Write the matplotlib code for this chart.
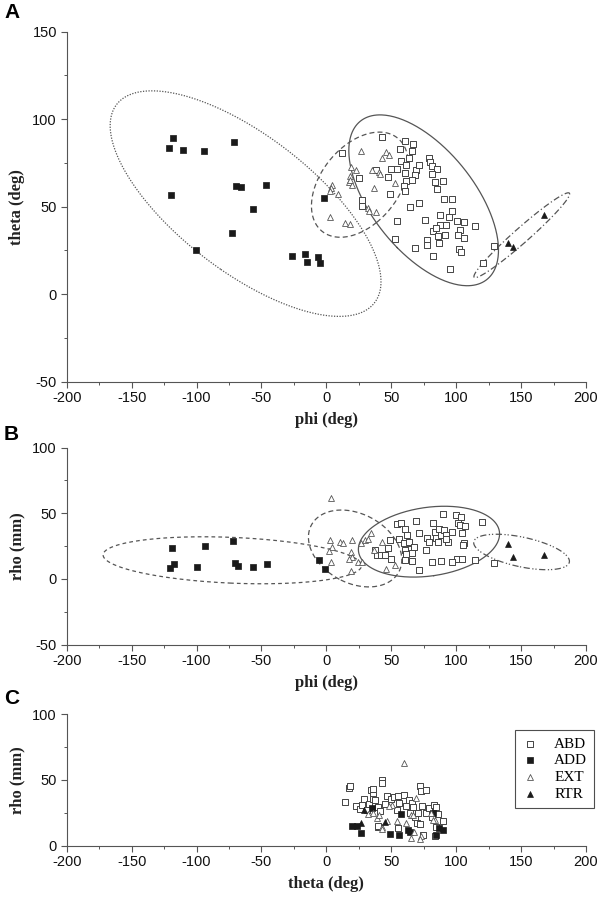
import numpy as np
import matplotlib
matplotlib.use('Agg')
import matplotlib.pyplot as plt
from matplotlib.ticker import MultipleLocator

plt.rcParams['font.family'] = ['Liberation Sans', 'DejaVu Sans']
plt.rcParams['axes.unicode_minus'] = False

# ---- panel A : phi vs theta (deg) ----
a_abd_phi = [11.8, 42.7, 60.2, 66.6, 56.8, 66.0, 64.0, 57.8, 61.7, 50.1, 54.2, 68.9, 71.4, 60.2, 68.3, 47.5,
             61.2, 65.8, 59.6, 60.6, 38.0, 24.9, 48.8, 27.2, 27.5, 78.9, 80.2, 81.2, 85.1, 81.4, 84.0, 89.9,
             85.3, 91.0, 96.4, 71.4, 64.5, 96.9, 54.2, 76.3, 87.4, 94.1, 87.6, 92.5, 100.3, 106.1, 103.3, 101.7,
             106.3, 114.4, 82.2, 85.8, 91.5, 77.6, 77.9, 86.4, 68.6, 81.9, 102.3, 103.6, 95.3, 52.7, 120.3, 128.8,
             84.8]
a_abd_theta = [80.5, 89.8, 87.7, 85.8, 83.0, 81.8, 77.6, 75.9, 73.9, 71.4, 71.6, 70.7, 73.6, 69.0, 67.8, 66.7,
               64.7, 65.1, 61.7, 59.0, 70.9, 66.1, 57.2, 54.0, 50.6, 77.6, 75.6, 73.1, 71.6, 68.7, 64.2, 64.5,
               59.9, 54.2, 54.6, 52.1, 49.9, 47.7, 42.0, 42.1, 45.0, 43.9, 39.3, 39.4, 41.7, 41.3, 36.8, 34.0,
               31.8, 38.7, 36.0, 33.2, 33.7, 31.0, 28.3, 29.0, 26.1, 21.9, 25.9, 24.3, 14.5, 31.6, 17.7, 27.2,
               37.7]
a_add_phi = [-118.5, -121.0, -110.8, -94.6, -71.0, -119.5, -69.4, -66.1, -46.8, -56.8, -72.8, -100.6,
             -26.5, -16.7, -15.2, -6.5, -5.2, -1.8]
a_add_theta = [89.4, 83.3, 82.2, 81.6, 87.1, 56.9, 62.0, 61.1, 62.2, 48.4, 34.7, 25.1,
               21.8, 22.8, 18.4, 20.9, 17.6, 55.2]
a_ext_phi = [27.0, 45.7, 48.3, 42.9, 19.0, 22.6, 35.0, 40.6, 41.3, 18.5, 17.2, 19.7, 4.6, 3.9, 2.5, 9.3,
             36.7, 52.9, 31.9, 33.2, 38.0, 3.1, 14.7, 18.0, 18.0]
a_ext_theta = [81.8, 81.2, 79.4, 77.6, 72.4, 70.8, 70.8, 69.9, 68.5, 67.4, 63.8, 62.6, 62.6, 60.9, 59.0, 57.2,
               60.5, 63.4, 49.4, 47.4, 46.9, 44.1, 40.4, 40.0, 65.3]
a_rtr_phi = [140.1, 143.7, 167.8]
a_rtr_theta = [29.1, 26.8, 45.0]

# ---- panel B : phi vs rho (mm) ----
b_abd_phi = [37.7, 39.0, 41.8, 44.9, 47.8, 49.3, 49.8, 54.7, 57.2, 60.5, 55.9, 62.1, 59.8, 63.4, 64.7, 67.2,
             60.3, 61.3, 66.3, 60.3, 65.7, 71.3, 69.0, 71.3, 77.8, 78.8, 77.0, 81.1, 82.1, 84.0, 84.7, 85.7,
             87.0, 88.3, 90.6, 91.9, 94.0, 97.0, 89.8, 92.4, 100.1, 101.4, 103.4, 104.2, 103.2, 106.3, 100.9,
             104.2, 96.7, 88.6, 114.2, 120.2, 107.0, 128.8, 105.3]
b_abd_rho = [22.1, 18.5, 18.5, 18.3, 23.3, 29.5, 15.2, 41.6, 42.6, 37.8, 30.2, 33.5, 27.2, 27.9, 22.8, 24.6,
             22.1, 19.0, 20.0, 14.5, 13.5, 35.2, 44.4, 6.8, 31.0, 27.9, 22.1, 13.2, 42.8, 36.0, 31.0, 27.9,
             37.8, 33.5, 37.3, 33.5, 28.4, 36.0, 49.5, 30.2, 48.5, 42.4, 47.4, 35.2, 41.1, 27.2, 15.2,
             15.4, 13.2, 13.5, 14.5, 43.6, 40.6, 12.2, 25.5]
b_add_phi = [-118.8, -120.3, -117.4, -93.8, -99.5, -72.1, -70.0, -68.3, -56.2, -45.9, -5.9, -0.9]
b_add_rho = [23.6, 8.1, 11.6, 24.8, 9.4, 28.9, 12.2, 9.6, 8.9, 11.6, 14.7, 7.6]
b_ext_phi = [3.6, 2.8, 4.6, 2.3, 3.6, 10.5, 12.8, 19.5, 18.7, 19.5, 17.7, 19.3, 24.1, 26.4, 30.0, 32.0,
             34.7, 42.6, 36.7, 45.7, 52.8, 27.4]
b_ext_rho = [61.4, 29.7, 24.6, 21.3, 12.7, 28.4, 27.2, 29.5, 20.8, 16.7, 15.4, 6.1, 13.2, 27.6, 29.7, 30.2,
             35.2, 28.4, 22.1, 7.4, 10.7, 12.7]
b_rtr_phi = [139.7, 143.8, 167.6]
b_rtr_rho = [26.9, 16.8, 18.0]

# ---- panel C : theta vs rho (mm) ----
c_abd_theta = [14.4, 17.6, 17.9, 22.6, 25.9, 28.8, 27.6, 32.6, 31.2, 34.4, 36.2, 36.2, 35.6, 37.6, 39.7, 42.6,
               43.2, 41.2, 39.4, 40.0, 45.0, 47.1, 50.0, 52.0, 55.3, 59.7, 56.0, 54.7, 55.0, 61.2, 63.5, 65.6,
               66.8, 64.7, 68.0, 70.9, 70.0, 72.4, 71.8, 73.0, 76.5, 73.5, 77.0, 74.1, 78.8, 82.6, 84.1, 86.2,
               90.0, 84.7, 83.8, 81.2]
c_abd_rho = [33.1, 44.0, 45.0, 29.8, 28.0, 35.6, 31.0, 31.3, 26.7, 42.0, 43.3, 38.7, 35.1, 34.4, 29.3, 49.6,
             47.8, 26.0, 14.0, 15.0, 31.8, 37.7, 35.6, 37.2, 37.4, 38.2, 32.3, 27.2, 13.2, 29.8, 34.9, 32.6,
             29.3, 24.9, 21.6, 24.9, 17.1, 16.0, 45.0, 41.5, 42.5, 29.8, 24.9, 8.1, 28.5, 31.0, 29.3, 24.2,
             18.6, 14.0, 6.9, 21.6]
c_add_theta = [19.4, 23.8, 26.5, 35.3, 49.4, 55.6, 57.4, 62.6, 64.1, 81.8, 84.1, 90.0, 86.8]
c_add_rho = [14.8, 14.8, 9.4, 28.8, 8.9, 8.1, 24.2, 11.5, 9.9, 24.9, 8.1, 12.0, 13.5]
c_ext_theta = [60.0, 69.3, 42.6, 35.9, 50.8, 54.7, 65.5, 80.9, 84.0, 73.2, 61.6, 31.8, 39.1, 40.5, 42.9,
               46.5, 48.3, 66.5, 81.8, 67.6, 65.3, 72.4]
c_ext_rho = [62.7, 36.0, 13.9, 24.6, 30.9, 18.9, 23.3, 24.6, 19.4, 7.2, 17.4, 24.2, 21.1, 22.9, 12.2,
             18.3, 30.3, 22.9, 19.1, 10.2, 5.9, 4.6]
c_rtr_theta = [29.1, 26.8, 45.0]
c_rtr_rho = [26.9, 16.8, 18.0]

STYLE = {
    'ABD': dict(marker='s', facecolor='white', edgecolor='#444444', s=15, linewidths=0.7),
    'ADD': dict(marker='s', facecolor='#1a1a1a', edgecolor='#1a1a1a', s=16, linewidths=0.5),
    'EXT': dict(marker='^', facecolor='white', edgecolor='#555555', s=18, linewidths=0.6),
    'RTR': dict(marker='^', facecolor='#1a1a1a', edgecolor='#1a1a1a', s=18, linewidths=0.5),
}
SERIF = ['Liberation Serif', 'DejaVu Serif']


# 95% confidence ellipse of a group
def conf_ellipse(x, y, k=2.4477, n=300):
    x = np.asarray(x)
    y = np.asarray(y)
    vals, vecs = np.linalg.eigh(np.cov(x, y))
    t = np.linspace(0, 2 * np.pi, n)
    circ = np.vstack([np.cos(t), np.sin(t)])
    pts = vecs @ (np.sqrt(vals)[:, None] * circ) * k
    return x.mean() + pts[0], y.mean() + pts[1]


def style_axes(ax, ylim, xlabel, ylabel):
    ax.set_xlim(-200, 200)
    ax.set_ylim(*ylim)
    ax.xaxis.set_major_locator(MultipleLocator(50))
    ax.xaxis.set_minor_locator(MultipleLocator(25))
    ax.yaxis.set_major_locator(MultipleLocator(50))
    ax.yaxis.set_minor_locator(MultipleLocator(25))
    for s in ['top', 'right']:
        ax.spines[s].set_visible(False)
    for s in ['left', 'bottom']:
        ax.spines[s].set_color('#555555')
        ax.spines[s].set_linewidth(0.8)
    ax.tick_params(which='major', direction='out', length=4, width=0.8, color='#555555',
                   labelsize=10.5, labelcolor='#111111', pad=3)
    ax.tick_params(which='minor', direction='out', length=2, width=0.7, color='#555555')
    ax.set_xlabel(xlabel, fontfamily=SERIF, fontweight='bold', fontsize=12, labelpad=5, color='#222222')
    ax.set_ylabel(ylabel, fontfamily=SERIF, fontweight='bold', fontsize=12, labelpad=5, color='#222222')


def draw_points(ax, data, labels=False):
    for g, (x, y) in data.items():
        ax.scatter(x, y, zorder=3, label=g if labels else None, **STYLE[g])


fig = plt.figure(figsize=(6.01, 8.99), dpi=100)
W, H = 601.0, 899.0
axA = fig.add_axes([66.7 / W, 1 - 381.5 / H, 519.3 / W, 349.8 / H])
axB = fig.add_axes([66.7 / W, 1 - 644.7 / H, 519.3 / W, 197.1 / H])
axC = fig.add_axes([66.7 / W, 1 - 845.5 / H, 519.3 / W, 131.5 / H])

# panel A
data_a = {'ABD': (a_abd_phi, a_abd_theta), 'ADD': (a_add_phi, a_add_theta),
          'EXT': (a_ext_phi, a_ext_theta), 'RTR': (a_rtr_phi, a_rtr_theta)}
ell_a = {'ABD': dict(ls='-'), 'ADD': dict(ls=(0, (1, 1.2))),
         'EXT': dict(ls=(0, (4, 2.5))), 'RTR': dict(ls=(0, (5, 2, 1, 2)))}
for g, (x, y) in data_a.items():
    ex, ey = conf_ellipse(x, y)
    axA.plot(ex, ey, color='#555555', lw=0.9, zorder=2, **ell_a[g])
draw_points(axA, data_a)
style_axes(axA, (-50, 150), 'phi (deg)', 'theta (deg)')

# panel B
data_b = {'ABD': (b_abd_phi, b_abd_rho), 'ADD': (b_add_phi, b_add_rho),
          'EXT': (b_ext_phi, b_ext_rho), 'RTR': (b_rtr_phi, b_rtr_rho)}
ell_b = {'ABD': dict(ls='-'), 'ADD': dict(ls=(0, (3, 2.5))),
         'EXT': dict(ls=(0, (4, 2.5))), 'RTR': dict(ls=(0, (5, 2, 1, 1.5, 1, 2)))}
for g, (x, y) in data_b.items():
    ex, ey = conf_ellipse(x, y)
    axB.plot(ex, ey, color='#555555', lw=0.9, zorder=2, **ell_b[g])
draw_points(axB, data_b)
style_axes(axB, (-50, 100), 'phi (deg)', 'rho (mm)')

# panel C
data_c = {'ABD': (c_abd_theta, c_abd_rho), 'ADD': (c_add_theta, c_add_rho),
          'EXT': (c_ext_theta, c_ext_rho), 'RTR': (c_rtr_theta, c_rtr_rho)}
draw_points(axC, data_c, labels=True)
style_axes(axC, (0, 100), 'theta (deg)', 'rho (mm)')
leg = axC.legend(loc='upper right', bbox_to_anchor=(594 / W, 1 - 730 / H), bbox_transform=fig.transFigure,
                 borderaxespad=0, frameon=True, fancybox=False, edgecolor='#222222',
                 prop={'family': SERIF, 'size': 11}, handlelength=1.0, handletextpad=1.1,
                 labelspacing=0.2, borderpad=0.45, scatterpoints=1)
leg.get_frame().set_linewidth(0.8)

# panel letters
for lab, y in [('A', 12), ('B', 434), ('C', 698)]:
    fig.text(4 / W, 1 - y / H, lab, fontsize=15, fontweight='bold', va='center', ha='left')

fig.savefig('out.png', dpi=100)
